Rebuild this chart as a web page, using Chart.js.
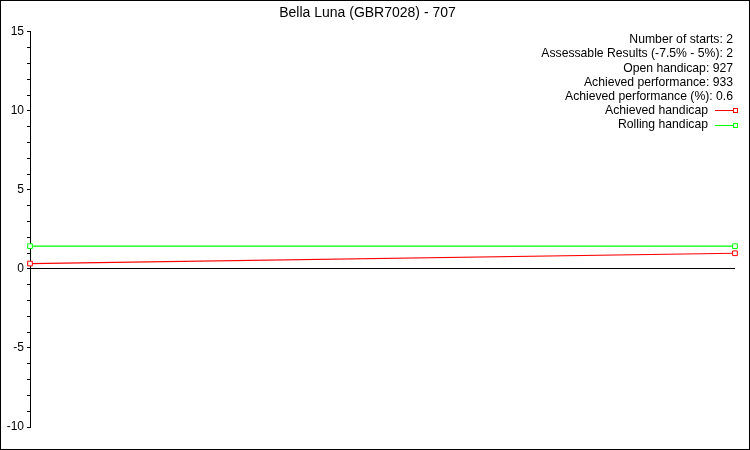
<!DOCTYPE html>
<html>
<head>
<meta charset="utf-8">
<script src="https://cdn.jsdelivr.net/npm/chart.js@4.4.1/dist/chart.umd.min.js"></script>
<style>
    html, body { margin: 0; padding: 0; background: #fff; }
    #wrap { width: 750px; height: 450px; }
</style>
</head>
<body>
<div id="wrap"><canvas id="grafico"></canvas></div>
<script>
const titulo = 'Bella Luna (GBR7028) - 707';
const largadas = ['Start 1', 'Start 2'];
const achievedHandicap = [0.34, 0.99];
const rollingHandicap = [1.44, 1.44];
const infoLinhas = [
    'Number of starts: 2',
    'Assessable Results (-7.5% - 5%): 2',
    'Open handicap: 927',
    'Achieved performance: 933',
    'Achieved performance (%): 0.6'
];
const cores = ['#ff0000', '#00ff00'];
const yTicks = { min: -10, max: 15, passo: 1, rotulo: 5 };

Chart.defaults.font.family = '"Liberation Sans", Arial, sans-serif';
Chart.defaults.color = '#000';

// legenda e textos no canto superior direito, mais a moldura
const textosPlugin = {
    id: 'textos',
    afterDraw(chart) {
        const c = chart.ctx;
        c.save();
        c.font = '12.2px "Liberation Sans", Arial, sans-serif';
        c.textAlign = 'right';
        c.textBaseline = 'middle';
        let y = 40;
        infoLinhas.forEach(function(linha) {
            c.fillStyle = '#000';
            c.fillText(linha, 733, y);
            y += 14.1;
        });
        chart.data.datasets.forEach(function(ds, i) {
            const yy = Math.round(y) + 0.5;
            c.fillStyle = '#000';
            c.fillText(ds.label, 708, y);
            c.strokeStyle = cores[i];
            c.lineWidth = 1;
            c.beginPath();
            c.moveTo(715, yy);
            c.lineTo(736, yy);
            c.stroke();
            c.fillStyle = '#fff';
            c.fillRect(733.5, yy - 2, 4, 4);
            c.strokeStyle = cores[i];
            c.strokeRect(733.5, yy - 2, 4, 4);
            y += 14.1;
        });
        c.strokeStyle = '#000';
        c.lineWidth = 1;
        c.strokeRect(0.5, 0.5, chart.width - 1, chart.height - 1);
        c.restore();
    }
};

new Chart(document.getElementById('grafico'), {
    type: 'line',
    data: {
        labels: largadas,
        datasets: [{
            label: 'Achieved handicap',
            data: achievedHandicap,
            borderColor: cores[0],
            borderWidth: 1.2,
            pointStyle: 'rect',
            pointRadius: 3.3,
            pointBorderWidth: 1,
            pointBackgroundColor: '#fff',
            pointBorderColor: cores[0],
            tension: 0,
            clip: false
        }, {
            label: 'Rolling handicap',
            data: rollingHandicap,
            borderColor: cores[1],
            borderWidth: 1.2,
            pointStyle: 'rect',
            pointRadius: 3.3,
            pointBorderWidth: 1,
            pointBackgroundColor: '#fff',
            pointBorderColor: cores[1],
            tension: 0,
            clip: false
        }]
    },
    options: {
        responsive: true,
        maintainAspectRatio: false,
        animation: false,
        events: [],
        layout: { padding: { left: 0, right: 15, top: 0, bottom: 23 } },
        plugins: {
            legend: { display: false },
            tooltip: { enabled: false },
            title: {
                display: true,
                text: titulo,
                color: '#000',
                font: { size: 14, weight: 'normal' },
                padding: { top: 5, bottom: 10 }
            }
        },
        scales: {
            x: {
                display: false,
                offset: false
            },
            y: {
                min: yTicks.min,
                max: yTicks.max,
                afterFit(scale) { scale.width = 30; },
                border: { display: true, color: '#000', width: 1 },
                grid: {
                    drawOnChartArea: true,
                    color: function(ctx) { return ctx.tick && ctx.tick.value === 0 ? '#000' : 'rgba(0,0,0,0)'; },
                    tickColor: '#000',
                    tickLength: 3
                },
                ticks: {
                    stepSize: yTicks.passo,
                    autoSkip: false,
                    padding: 3,
                    color: '#000',
                    font: { size: 12 },
                    callback: function(v) { return v % yTicks.rotulo === 0 ? v : ''; }
                }
            }
        }
    },
    plugins: [textosPlugin]
});
</script>
</body>
</html>
